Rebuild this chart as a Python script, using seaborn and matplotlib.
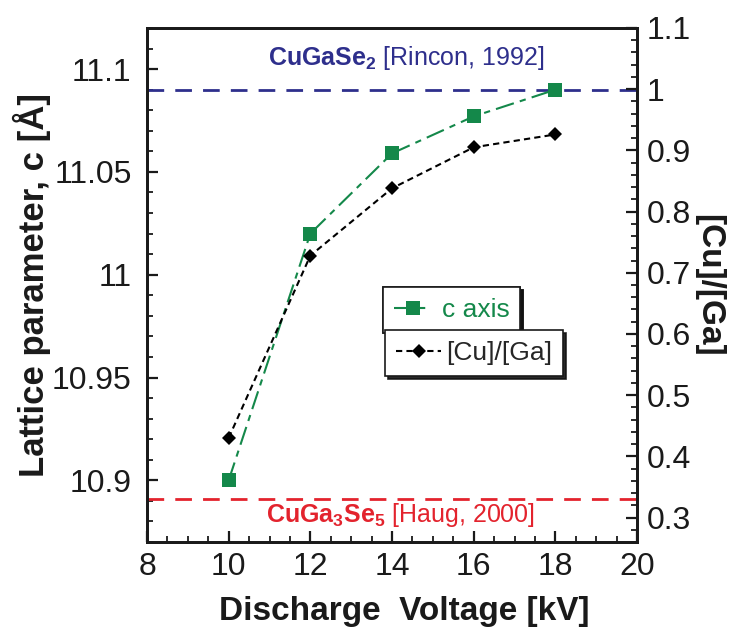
import matplotlib
matplotlib.use("Agg")
import matplotlib.pyplot as plt
from matplotlib.ticker import MultipleLocator
import seaborn as sns
import pandas as pd

# Measured data
voltage_kv = [10, 12, 14, 16, 18]
c_axis = [10.900, 11.020, 11.059, 11.077, 11.090]
cu_ga_ratio = [0.430, 0.728, 0.838, 0.905, 0.926]

# Reference lattice parameters
c_cugase2 = 11.090      # CuGaSe2 [Rincon, 1992]
c_cuga3se5 = 10.891     # CuGa3Se5 [Haug, 2000]

GREEN = "#14884a"
NAVY = "#2e2f8c"
RED = "#e3232d"
INK = "#1a1a1a"

sns.set_theme(style="ticks")
plt.rcParams["font.family"] = ["Liberation Sans", "DejaVu Sans"]
plt.rcParams["mathtext.fontset"] = "custom"
plt.rcParams["mathtext.rm"] = "Liberation Sans"
plt.rcParams["mathtext.bf"] = "Liberation Sans:bold"

df = pd.DataFrame({"V": voltage_kv, "c": c_axis, "r": cu_ga_ratio})

fig = plt.figure(figsize=(7.45, 6.32), dpi=100)
ax = fig.add_axes([147 / 745, 90 / 632, 490 / 745, 514 / 632])
ax2 = ax.twinx()

# reference lines
ax.axhline(c_cugase2, color=NAVY, lw=2, ls=(0, (6, 4)), zorder=1)
ax.axhline(c_cuga3se5, color=RED, lw=2, ls=(0, (6, 4)), zorder=1)

sns.lineplot(data=df, x="V", y="c", ax=ax, color=GREEN, marker="s",
             markersize=10, markeredgewidth=0, lw=1.5,
             ls=(0, (9, 3, 3, 3)), zorder=3)
sns.lineplot(data=df, x="V", y="r", ax=ax2, color="black", marker="D",
             markersize=7, markeredgewidth=0, lw=1.5,
             ls=(0, (3, 2)), zorder=3)

ax.set_xlim(8, 20)
ax.set_ylim(10.87, 11.12)
ax2.set_ylim(0.26, 1.1)

ax.xaxis.set_minor_locator(MultipleLocator(0.5))
ax.yaxis.set_minor_locator(MultipleLocator(0.01))
ax2.yaxis.set_minor_locator(MultipleLocator(0.02))

ax.set_xticks([8, 10, 12, 14, 16, 18, 20])
ax.set_xticklabels(["8", "10", "12", "14", "16", "18", "20"])
ax.set_yticks([10.9, 10.95, 11.0, 11.05, 11.1])
ax.set_yticklabels(["10.9", "10.95", "11", "11.05", "11.1"])
ax2.set_yticks([0.3, 0.4, 0.5, 0.6, 0.7, 0.8, 0.9, 1.0, 1.1])
ax2.set_yticklabels(["0.3", "0.4", "0.5", "0.6", "0.7", "0.8", "0.9", "1", "1.1"])

for a in (ax, ax2):
    for s in a.spines.values():
        s.set_linewidth(2)
        s.set_color(INK)
    a.tick_params(which="major", direction="in", length=8, width=1.6,
                  labelsize=23, colors=INK)
    a.tick_params(which="minor", direction="in", length=4, width=1.3,
                  colors=INK)
ax.tick_params(axis="y", which="both", right=False, pad=11)
ax.tick_params(axis="x", which="both", top=False, pad=7)
ax2.tick_params(axis="y", which="both", left=False, pad=7)

ax.set_xlabel("Discharge  Voltage [kV]", fontsize=24, fontweight="bold",
              color=INK)
ax.xaxis.set_label_coords(0.525, -0.105)
ax.set_ylabel("Lattice parameter, c [Å]", fontsize=25, fontweight="bold",
              color=INK)
ax.yaxis.set_label_coords(-0.195, 0.5)
ax2.set_ylabel("[Cu]/[Ga]", fontsize=24, fontweight="bold", rotation=270,
               color=INK)
ax2.yaxis.set_label_coords(1.178, 0.5)

ax.text(14.35, 11.102, r"$\mathbf{CuGaSe_2}$ [Rincon, 1992]", color=NAVY,
        fontsize=18, ha="center", va="baseline")
ax.text(14.2, 10.8797, r"$\mathbf{CuGa_3Se_5}$ [Haug, 2000]", color=RED,
        fontsize=18, ha="center", va="baseline")

# two stacked legend boxes with drop shadows
h1 = ax.lines[-1]
h2 = ax2.lines[-1]
shadow = {"color": "#111111", "alpha": 0.9}
leg1 = fig.legend([h1], ["c axis"], loc="upper left",
                  bbox_to_anchor=(383 / 745, 1 - 287 / 632),
                  borderaxespad=0, fancybox=False, shadow=shadow,
                  fontsize=19, handlelength=1.4, handletextpad=0.4,
                  borderpad=0.42, framealpha=1, edgecolor=INK)
leg1.get_frame().set_linewidth(1.2)
for t in leg1.get_texts():
    t.set_color(GREEN)
leg2 = fig.legend([h2], ["[Cu]/[Ga]"], loc="upper left",
                  bbox_to_anchor=(385 / 745, 1 - 330 / 632),
                  borderaxespad=0, fancybox=False, shadow=shadow,
                  fontsize=19, handlelength=1.7, handletextpad=0.2,
                  borderpad=0.42, framealpha=1, edgecolor=INK)
leg2.get_frame().set_linewidth(1.2)
fig.add_artist(leg1)

fig.savefig("out.png", dpi=100)
